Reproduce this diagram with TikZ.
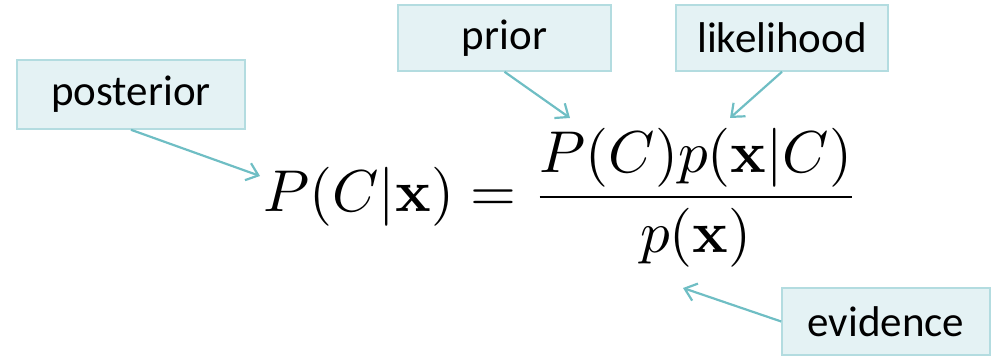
\documentclass[tikz,border=0pt]{standalone}
\usepackage[no-math]{fontspec}
\usepackage{amsmath}
\usepackage{graphicx}
\setmainfont{Carlito}
\usetikzlibrary{arrows.meta}
\definecolor{boxfill}{HTML}{E4F2F4}
\definecolor{boxline}{HTML}{B3DCE0}
\definecolor{arrowcol}{HTML}{6FBEC4}
\tikzset{
  labelbox/.style={draw=boxline, fill=boxfill, line width=0.8pt, inner sep=0pt,
    font=\fontsize{21.5}{25}\selectfont, text=black},
  pointer/.style={draw=arrowcol, line width=1.1pt,
    -{Straight Barb[length=5.5pt,width=9pt,line width=1.1pt]}}
}
\begin{document}
\begin{tikzpicture}[x=0.5pt,y=-0.5pt]
\useasboundingbox (0,0) rectangle (995,357);
\node[labelbox, minimum width=114pt, minimum height=34.5pt] (post) at (131,94.5) {posterior};
\node[labelbox, minimum width=106.5pt, minimum height=33pt] (prior) at (504.5,38) {prior};
\node[labelbox, minimum width=106pt, minimum height=33pt] (lik) at (782,38) {likelihood};
\node[labelbox, minimum width=104pt, minimum height=33.5pt] (ev) at (886,321.5) {evidence};
\node[anchor=base west, inner sep=0pt] (eq) at (263,212)
  {\scalebox{2.95}{$P(C|\mathbf{x}) = \dfrac{P(C)p(\mathbf{x}|C)}{p(\mathbf{x})}$}};
\coordinate (tpost) at (260,176);
\coordinate (tprior) at (570,118);
\coordinate (tlik) at (730,118);
\coordinate (tev) at (683,288);
\draw[pointer] (post.south) -- (tpost);
\draw[pointer] (prior.south) -- (tprior);
\draw[pointer] (lik.south) -- (tlik);
\draw[pointer] (ev.west) -- (tev);
\end{tikzpicture}
\end{document}
